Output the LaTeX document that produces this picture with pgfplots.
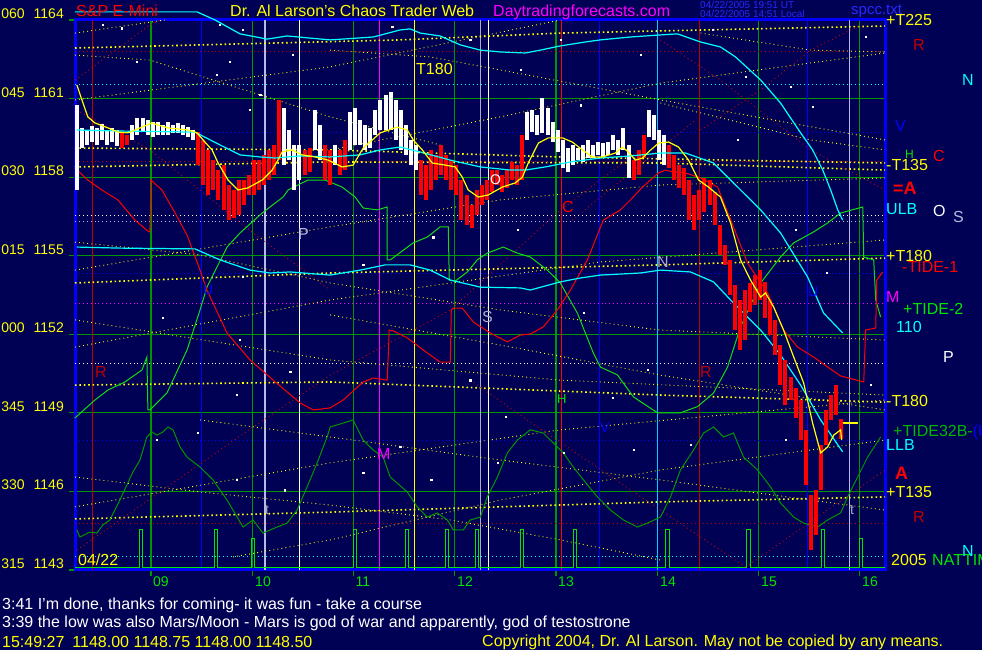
\documentclass[border=0pt]{standalone}
\usepackage{pgfplots}
\pgfplotsset{compat=1.18}
\usepackage{pgfplotstable}
\usepackage{fontspec}
\setmainfont{Liberation Sans}
\definecolor{bgnavy}{RGB}{0,0,85}
\definecolor{gridgreen}{RGB}{0,150,0}
\definecolor{ltgreen}{RGB}{0,230,0}
\definecolor{dkgreen}{RGB}{0,150,0}
\definecolor{slowgreen}{RGB}{20,220,20}
\definecolor{bred}{RGB}{255,0,0}
\definecolor{dred}{RGB}{190,0,0}
\definecolor{cyanc}{RGB}{0,255,255}
\definecolor{lav}{RGB}{185,185,230}
\definecolor{grayc}{RGB}{170,170,200}
\definecolor{bblue}{RGB}{0,0,255}
\definecolor{yel}{RGB}{255,255,0}
\definecolor{mag}{RGB}{255,0,255}
\definecolor{tblue}{RGB}{40,40,255}
\newcommand{\fs}[1]{\fontsize{#1}{#1}\selectfont}

\pgfplotstableread{
m lo hi
496 1157.51 1160.75
499 1159.11 1159.88
502 1159.23 1159.80
505 1159.34 1159.95
508 1159.23 1159.88
511 1159.42 1160.03
514 1159.23 1159.80
517 1159.34 1159.88
520 1159.19 1159.80
529 1159.42 1159.99
532 1159.61 1160.26
535 1159.72 1160.26
538 1159.61 1160.18
541 1159.53 1160.11
544 1159.61 1160.11
547 1159.61 1159.99
550 1159.61 1160.11
553 1159.69 1159.99
556 1159.69 1160.07
559 1159.61 1159.99
562 1159.53 1159.91
565 1159.42 1159.80
619 1158.46 1160.64
622 1158.65 1159.80
625 1157.51 1159.23
628 1157.89 1159.23
637 1159.04 1160.56
640 1158.65 1159.99
649 1158.46 1159.23
658 1159.04 1160.49
661 1159.23 1160.64
664 1159.23 1160.18
667 1159.04 1159.99
670 1159.11 1159.88
673 1159.61 1160.56
676 1159.80 1160.95
679 1159.80 1161.14
682 1159.80 1161.25
685 1159.42 1160.95
688 1159.04 1160.56
691 1158.85 1159.99
694 1158.46 1159.42
697 1158.27 1159.23
763 1159.42 1160.49
766 1159.72 1160.56
769 1159.61 1160.37
772 1159.69 1161.02
775 1159.61 1160.64
778 1159.34 1160.11
781 1158.96 1159.80
784 1158.35 1159.42
787 1158.20 1159.11
790 1158.46 1159.23
793 1158.65 1159.11
796 1158.58 1159.23
799 1158.73 1159.42
802 1158.73 1159.23
805 1158.85 1159.34
808 1158.77 1159.30
811 1158.85 1159.34
814 1159.04 1159.61
817 1158.85 1159.42
820 1159.04 1159.88
823 1157.97 1159.23
835 1159.53 1160.56
838 1159.42 1160.37
841 1158.65 1159.80
844 1158.46 1159.61
}\barsW

\pgfplotstableread{
m lo hi
523 1159.11 1159.72
526 1159.23 1159.61
568 1158.46 1159.72
571 1157.70 1159.42
574 1157.32 1159.04
577 1157.51 1158.65
580 1157.13 1158.27
583 1156.75 1158.46
586 1156.36 1157.70
589 1156.44 1157.51
592 1156.55 1157.89
595 1156.94 1157.89
598 1157.32 1158.08
601 1157.32 1158.65
604 1157.51 1158.65
607 1157.70 1158.85
610 1157.89 1159.04
613 1158.08 1159.23
616 1158.65 1160.95
631 1158.08 1159.04
634 1158.20 1159.11
643 1157.89 1159.23
646 1157.70 1159.04
652 1158.08 1159.04
655 1158.27 1159.42
700 1157.32 1158.65
703 1157.13 1158.46
706 1157.51 1159.04
709 1157.89 1158.85
712 1158.08 1159.23
715 1157.89 1158.85
718 1157.51 1158.65
721 1157.32 1158.46
724 1156.36 1157.89
727 1156.17 1157.32
730 1156.06 1156.94
733 1156.55 1157.51
736 1156.94 1157.70
739 1157.13 1157.89
742 1157.43 1158.27
745 1157.70 1158.27
748 1157.43 1158.08
751 1157.59 1158.27
754 1157.89 1158.58
757 1157.70 1158.46
760 1157.89 1159.61
826 1157.89 1158.65
829 1158.08 1159.04
832 1158.73 1159.61
847 1158.35 1159.23
850 1157.89 1158.85
853 1157.59 1158.46
856 1157.32 1158.35
859 1156.36 1157.89
862 1155.98 1157.32
865 1156.36 1157.51
868 1156.67 1157.97
871 1156.94 1157.89
874 1156.17 1157.43
877 1155.03 1156.17
880 1154.65 1155.41
883 1153.50 1154.84
886 1152.16 1153.88
889 1151.40 1153.31
892 1151.78 1153.69
895 1152.85 1153.96
898 1153.12 1154.26
901 1153.31 1154.45
904 1152.62 1154.00
907 1151.97 1153.31
910 1151.21 1152.55
913 1150.06 1151.59
916 1149.30 1151.02
919 1149.49 1150.37
922 1148.80 1149.95
925 1147.96 1149.49
928 1146.25 1148.35
931 1143.76 1145.86
934 1144.34 1146.05
937 1146.05 1147.77
940 1147.77 1149.11
943 1148.73 1149.68
946 1148.92 1150.06
949 1148.00 1148.75
}\barsR

\begin{document}
\begin{tikzpicture}[
  lbl/.style={anchor=base west, inner sep=0pt},
  hd/.style={line width=0.9pt, dash pattern=on 0.9pt off 3pt},
  vl/.style={line width=1.2pt},
  efy/.style={yel, line width=0.9pt, dash pattern=on 0.9pt off 3.2pt},
  efyt/.style={yel, line width=1.6pt, dash pattern=on 1.6pt off 2.8pt},
  efr/.style={bred!85!black, line width=0.9pt, dash pattern=on 0.9pt off 3.2pt}]
\useasboundingbox (0,0) rectangle (982pt,650pt);
\fill[bgnavy] (0,0) rectangle (982pt,650pt);
\clip (0,0) rectangle (982pt,650pt);
\begin{axis}[
  at={(75pt,80pt)}, anchor=south west, scale only axis,
  width=810pt, height=550pt,
  xmin=495, xmax=975, ymin=1143, ymax=1164,
  xtick={540,600,...,960}, ytick={1143,1146,...,1164},
  xticklabels={}, yticklabels={},
  tick pos=left,
  grid=major, major grid style={draw=gridgreen, line width=1.2pt},
  tick align=outside, major tick length=6pt,
  tick style={draw=gridgreen, line width=1.2pt},
  axis line style={draw=bblue, line width=3pt},
  clip=false]

% horizontal dotted levels
\addplot[hd, dred] coordinates {(495,1162.78) (975,1162.78)};
\addplot[hd, cyanc] coordinates {(495,1161.52) (975,1161.52)};
\addplot[hd, bblue] coordinates {(495,1159.72) (975,1159.72)};
\addplot[hd, dred] coordinates {(495,1158.58) (975,1158.58)};
\addplot[hd, white] coordinates {(495,1156.52) (975,1156.52)};
\addplot[hd, lav] coordinates {(495,1156.29) (975,1156.29)};
\addplot[hd, bblue] coordinates {(495,1154.34) (975,1154.34)};
\addplot[hd, mag] coordinates {(495,1153.19) (975,1153.19)};
\addplot[hd, white] coordinates {(495,1150.90) (975,1150.90)};
\addplot[hd, bblue] coordinates {(495,1147.96) (975,1147.96)};
\addplot[hd, dred] coordinates {(495,1144.79) (975,1144.79)};
\addplot[hd, cyanc] coordinates {(495,1143.50) (975,1143.50)};

% vertical time lines
\addplot[vl, dred] coordinates {(505.6,1143) (505.6,1164)};
\addplot[vl, bblue] coordinates {(570,1143) (570,1164)};
\addplot[vl, lav] coordinates {(607.6,1143) (607.6,1164)};
\addplot[vl, white] coordinates {(627.8,1143) (627.8,1164)};
\addplot[vl, mag] coordinates {(675.3,1143) (675.3,1164)};
\addplot[vl, yel] coordinates {(696,1143) (696,1164)};
\addplot[vl, grayc] coordinates {(735.2,1143) (735.2,1164)};
\addplot[vl, white] coordinates {(739.9,1143) (739.9,1164)};
\addplot[vl, bred] coordinates {(783.2,1143) (783.2,1164)};
\addplot[vl, bblue] coordinates {(805.8,1143) (805.8,1164)};
\addplot[vl, cyanc!80!blue] coordinates {(840,1143) (840,1164)};
\addplot[vl, dred] coordinates {(865.1,1143) (865.1,1164)};
\addplot[vl, bblue] coordinates {(929.1,1143) (929.1,1164)};
\addplot[vl, lav] coordinates {(954.1,1143) (954.1,1164)};

% yellow thick field lines
\addplot[efyt] coordinates {(495,1162.93) (687.7,1163.24) (782.6,1163.50) (975,1163.77)};
\addplot[efyt] coordinates {(495,1159.11) (646.2,1159.04) (782.6,1158.77) (975,1158.54)};
\addplot[efyt] coordinates {(495,1158.39) (646.2,1158.58) (841.9,1158.54) (975,1158.27)};
\addplot[efyt] coordinates {(495,1153.96) (646.2,1154.34) (841.9,1154.65) (975,1154.91)};
\addplot[efyt] coordinates {(495,1150.06) (646.2,1150.18) (841.9,1149.68) (975,1149.41)};
\addplot[efyt] coordinates {(495,1144.95) (646.2,1145.21) (841.9,1145.60) (975,1145.79)};
% yellow fine field lines
\addplot[efy] coordinates {(495,1163.50) (548.3,1164.0)};
\addplot[efy] coordinates {(495,1160.95) (646.2,1162.21) (782.6,1164.0)};
\addplot[efy] coordinates {(495,1162.66) (539.4,1162.47) (646.2,1160.30) (711.4,1159.23)};
\addplot[efy] coordinates {(646.2,1162.85) (705.5,1162.59) (841.9,1160.95) (975,1159.42)};
\addplot[efy] coordinates {(646.2,1159.04) (747.0,1160.30) (841.9,1161.59) (975,1162.74)};
\addplot[efy] coordinates {(841.9,1160.83) (930.9,1159.42) (975,1159.04)};
\addplot[efy] coordinates {(865.7,1163.50) (930.9,1162.85) (975,1162.78)};
\addplot[efy] coordinates {(495,1155.52) (569.1,1155.03) (646.2,1153.96) (747.0,1152.93) (841.9,1152.16) (975,1151.78)};
\addplot[efy] coordinates {(495,1154.45) (646.2,1156.10) (747.0,1157.13) (841.9,1157.70) (975,1157.97)};
\addplot[efy] coordinates {(495,1152.55) (646.2,1151.02) (782.6,1150.25) (975,1149.68)};
\addplot[efy] coordinates {(495,1151.51) (646.2,1153.31) (806.3,1154.76) (975,1155.60)};
\addplot[efy] coordinates {(495,1146.55) (569.1,1145.98) (646.2,1145.48) (717.4,1144.91) (782.6,1144.15) (841.9,1143.38)};
\addplot[efy] coordinates {(495,1145.41) (646.2,1147.09) (782.6,1148.35) (975,1149.49)};
\addplot[efy] coordinates {(569.1,1148.73) (646.2,1148.08) (747.0,1147.20) (841.9,1146.44) (975,1145.29)};
\addplot[efy] coordinates {(588.6,1143.50) (646.2,1144.15) (747.0,1145.67) (841.9,1146.82) (975,1147.96)};
\addplot[efy] coordinates {(646.2,1152.74) (747.0,1151.59) (841.9,1150.44) (975,1149.11)};
% red field lines
\addplot[efr] coordinates {(496.1,1143.76) (600.5,1148.46) (646.2,1150.44) (717.4,1152.93) (782.6,1156.75) (830.1,1159.04)};
\addplot[efr] coordinates {(496.1,1160.56) (539.4,1159.04) (600.5,1155.87) (646.2,1153.69)};
\addplot[efr] coordinates {(495,1161.71) (539.4,1163.81) (545.3,1164.0)};
\addplot[efr] coordinates {(729.2,1150.25) (763.0,1148.73) (841.9,1145.29) (892.4,1143.11)};
\addplot[efr] coordinates {(892.4,1143.11) (975,1146.82)};
\addplot[efr] coordinates {(841.9,1163.24) (877.5,1161.71) (930.9,1159.04) (975,1157.51)};
\addplot[efr] coordinates {(865.7,1159.80) (901.3,1161.33) (930.9,1162.85) (960.6,1163.81)};
\addplot[efr] coordinates {(789.7,1156.36) (862.7,1160.18)};

% scattered white points
\addplot[only marks, mark=square*, mark size=0.6pt, white] coordinates {
(511.5,1163.81) (522.8,1163.69) (580.9,1163.81) (594.6,1163.62) (531.7,1162.40)
(586.9,1162.40) (579.2,1161.90) (624.2,1162.66) (604.7,1161.14) (598.7,1160.56)
(547.1,1152.62) (594.6,1154.19) (592.8,1151.78) (622.5,1150.56) (591.0,1149.68)
(543.6,1147.96) (567.9,1148.23) (591.0,1146.44) (619.5,1146.05) (665.8,1146.70)
(687.7,1147.70) (706.1,1146.44) (745.3,1147.09) (784.4,1147.47) (825.9,1147.58)
(872.8,1163.62) (892.4,1161.82) (919.1,1161.44) (963.5,1163.35) (932.1,1160.68)
(887.6,1159.42) (922.0,1155.98) (940.4,1154.34) (966.5,1150.06) (859.7,1147.77)
(916.1,1147.96) (757.1,1155.98) (796.3,1152.81) (813.5,1149.57) (729.2,1150.25)
(683.0,1163.73) (729.2,1163.24) (782.6,1163.24) (758.9,1162.09) (830.1,1162.66)
(794.5,1160.75) (707.3,1155.71) (665.8,1154.65) (834.2,1150.64) (750.0,1148.84)};

% dark green wavy line
\addplot[dkgreen, line width=1pt] coordinates {
(496.1,1144.53) (497.9,1144.26) (503.8,1144.45) (508.0,1144.41) (511.5,1144.72)
(515.7,1144.91) (521.6,1145.67) (529.3,1146.74) (533.5,1147.20) (537.6,1148.08)
(540.6,1148.27) (543.6,1148.15) (547.1,1148.27) (550.1,1148.46) (553.1,1148.35)
(557.2,1147.70) (561.4,1147.31) (569.1,1146.93) (576.8,1146.44) (585.1,1145.67)
(588.6,1145.29) (594.6,1144.64) (600.5,1144.91) (606.4,1144.41) (614.7,1144.64)
(620.7,1144.79) (626.6,1145.29) (632.5,1146.17) (638.5,1147.09) (644.4,1148.08)
(646.2,1148.46) (653.9,1148.61) (659.8,1148.73) (665.8,1147.96) (671.7,1147.58)
(677.6,1147.31) (681.8,1146.55) (691.9,1145.98) (697.8,1145.41) (703.7,1145.02)
(709.7,1145.18) (715.6,1144.91) (719.2,1144.53) (725.1,1144.53) (729.2,1144.91)
(735.2,1145.02) (739.3,1145.79) (745.3,1146.55) (751.2,1147.47) (757.1,1147.96)
(764.8,1148.35) (772.5,1148.23) (776.7,1147.96) (784.4,1147.47) (790.3,1146.93)
(796.3,1146.44) (804.6,1145.79) (812.3,1145.29) (820.0,1144.91) (828.3,1144.64)
(834.2,1144.79) (841.9,1145.02) (847.9,1145.79) (853.8,1146.82) (861.5,1147.58)
(867.5,1148.23) (873.4,1148.46) (879.3,1148.08) (885.2,1148.23) (891.2,1147.31)
(899.5,1146.82) (907.2,1146.17) (913.1,1145.56) (920.9,1145.02) (926.8,1144.79)
(935.1,1144.64) (941.0,1144.91) (948.7,1145.18) (952.9,1145.79) (958.8,1146.55)
(964.7,1147.31) (972.4,1148.08)};

% slow green line
\addplot[slowgreen, line width=1pt] coordinates {
(494.9,1148.80) (506.8,1149.49) (514.5,1149.87) (524.6,1150.18) (534.7,1150.64)
(537.6,1151.13) (538.2,1149.11) (539.4,1149.11) (549.5,1149.76) (561.4,1151.40)
(569.1,1152.93) (573.2,1153.80) (585.1,1155.33) (592.8,1155.87) (605.9,1156.63)
(618.3,1157.24) (621.3,1157.51) (633.1,1157.89) (643.2,1157.89) (653.3,1157.62)
(661.0,1157.24) (665.8,1156.82) (674.1,1156.75) (680.0,1156.86) (680.0,1154.84)
(681.8,1154.84) (695.4,1155.49) (703.7,1155.71) (711.4,1156.10) (716.2,1156.10)
(716.8,1154.07) (720.3,1154.03) (727.5,1154.38) (733.4,1154.84) (739.3,1155.10)
(748.8,1155.33) (757.1,1155.10) (764.8,1154.95) (774.9,1154.45) (782.6,1153.96)
(792.7,1152.81) (802.2,1151.28) (806.3,1150.75) (816.4,1150.45) (825.9,1149.61)
(840.2,1149.00) (853.8,1149.00) (863.9,1149.24) (873.4,1149.76) (881.7,1150.75)
(889.4,1152.28) (901.3,1153.96) (913.1,1154.95) (920.9,1155.49) (932.7,1155.91)
(941.0,1156.25) (948.7,1156.63) (961.8,1156.86) (962.4,1154.95) (968.3,1154.84)
(969.5,1153.31) (972.4,1152.66)};

% red slow line
\addplot[bred, line width=1pt] coordinates {
(494.9,1158.35) (502.6,1157.89) (510.9,1157.51) (520.4,1157.13) (530.5,1156.36)
(538.8,1155.91) (539.4,1155.91) (540.0,1157.89) (546.5,1157.51) (554.3,1156.63)
(561.4,1155.79) (569.1,1154.45) (573.2,1153.69) (585.1,1152.05) (598.7,1151.02)
(612.4,1150.25) (628.4,1149.38) (636.1,1149.11) (646.2,1149.19) (653.9,1149.49)
(665.8,1150.18) (671.7,1150.33) (680.0,1150.25) (680.6,1151.13) (681.2,1152.16)
(683.6,1152.13) (691.9,1151.86) (703.7,1151.29) (711.4,1150.94) (717.4,1150.94)
(718.0,1152.93) (719.2,1153.00) (724.5,1153.00) (731.0,1152.47) (741.1,1152.05)
(751.2,1151.71) (758.9,1151.97) (764.8,1152.01) (772.5,1152.28) (780.8,1152.93)
(788.6,1153.69) (798.6,1154.84) (808.1,1156.36) (818.2,1156.75) (824.1,1157.13)
(831.3,1157.62) (840.8,1158.16) (844.9,1158.27) (849.1,1158.20) (856.8,1158.16)
(865.7,1157.97) (875.8,1157.62) (885.2,1156.10) (893.5,1154.72) (905.4,1153.58)
(914.9,1152.16) (923.2,1151.51) (932.7,1151.13) (941.0,1150.75) (948.7,1150.41)
(962.4,1150.18) (963.5,1152.16) (969.5,1152.24) (970.1,1154.07) (973.6,1154.38)};

% cyan bands
\addplot[cyanc, line width=1.2pt] coordinates {
(494.9,1164.31) (567.3,1164.31) (578.0,1164.00) (592.8,1163.47) (608.8,1163.27)
(620.7,1163.39) (646.2,1163.24) (671.7,1163.35) (687.7,1163.62) (693.6,1163.66)
(699.6,1163.50) (711.4,1163.39) (723.3,1163.05) (735.2,1162.85) (747.0,1162.78)
(761.9,1162.74) (770.8,1162.85) (782.6,1163.01) (797.4,1163.16) (806.3,1163.24)
(824.1,1163.35) (841.9,1163.43) (852.0,1163.47) (865.7,1163.16) (877.5,1162.97)
(886.4,1162.59) (901.3,1161.71) (913.1,1160.83) (925.0,1159.69) (932.1,1159.04)
(938.1,1158.27) (942.8,1157.51) (947.0,1156.75) (949.9,1156.36)};
\addplot[cyanc, line width=1.2pt] coordinates {
(496.1,1155.33) (521.6,1155.29) (566.1,1155.26) (580.9,1154.84) (598.7,1154.45)
(610.6,1154.34) (622.5,1154.38) (646.2,1154.26) (664.0,1154.45) (678.8,1154.65)
(693.6,1154.65) (705.5,1154.45) (717.4,1154.07) (735.2,1153.80) (758.9,1153.77)
(764.8,1153.69) (782.6,1154.00) (794.5,1154.15) (806.3,1154.26) (830.1,1154.34)
(841.9,1154.45) (859.7,1154.38) (873.4,1154.00) (883.5,1153.31) (901.3,1152.16)
(913.1,1151.21) (925.0,1150.06) (936.9,1148.73) (949.9,1147.51)};

% price bars
\addplot[draw=none, mark=none, error bars/.cd, y dir=minus, y explicit, error mark=none,
  error bar style={draw=bred, line width=4pt}]
  table[x=m, y=hi, y error minus expr=\thisrow{hi}-\thisrow{lo}] {\barsR};
\addplot[draw=none, mark=none, error bars/.cd, y dir=minus, y explicit, error mark=none,
  error bar style={draw=white, line width=4pt}]
  table[x=m, y=hi, y error minus expr=\thisrow{hi}-\thisrow{lo}] {\barsW};

% cyan moving average
\addplot[cyanc, line width=1.2pt] coordinates {
(496.1,1159.80) (521.6,1159.76) (566.1,1159.72) (580.9,1159.23) (592.8,1158.85)
(604.7,1158.77) (613.6,1158.73) (628.4,1158.81) (646.2,1158.77) (664.0,1158.85)
(675.9,1159.04) (687.7,1159.15) (699.6,1158.96) (717.4,1158.65) (735.2,1158.39)
(753.0,1158.27) (761.9,1158.27) (773.7,1158.39) (788.6,1158.58) (806.3,1158.73)
(824.1,1158.81) (841.9,1158.92) (856.8,1158.92) (873.4,1158.54) (885.2,1157.78)
(901.3,1156.75) (913.1,1155.87) (929.1,1154.19) (938.6,1152.81) (949.9,1152.05)};
% yellow moving average
\addplot[yel, line width=1.2pt] coordinates {
(496.1,1161.52) (499.1,1160.95) (502.6,1160.30) (506.8,1160.07) (514.5,1159.88)
(520.4,1159.72) (526.4,1159.69) (534.7,1159.91) (540.6,1160.07) (544.2,1159.99)
(550.1,1159.88) (561.9,1159.80) (567.3,1159.69) (572.0,1159.34) (576.2,1159.04)
(579.8,1158.54) (585.7,1157.89) (591.6,1157.51) (597.5,1157.59) (605.9,1157.89)
(611.8,1158.27) (615.3,1158.65) (617.7,1158.96) (623.6,1159.04) (629.6,1158.85)
(637.3,1158.77) (645.0,1158.65) (653.3,1158.39) (659.8,1158.46) (665.8,1159.11)
(675.9,1159.69) (685.9,1159.91) (691.9,1159.80) (695.4,1159.42) (700.8,1159.04)
(706.7,1158.54) (714.4,1158.46) (720.3,1158.39) (724.5,1158.00) (728.0,1157.51)
(734.0,1157.24) (739.9,1157.32) (748.2,1157.62) (755.9,1157.78) (760.1,1158.00)
(763.6,1158.54) (769.6,1159.30) (775.5,1159.50) (783.8,1159.50) (789.7,1159.34)
(795.7,1159.04) (801.6,1158.77) (807.5,1158.77) (815.2,1158.92) (819.4,1159.15)
(822.9,1158.96) (827.1,1158.65) (831.3,1158.73) (834.8,1158.96) (840.8,1159.30)
(846.7,1159.34) (852.6,1159.15) (858.6,1158.65) (864.5,1157.89) (870.4,1157.62)
(877.5,1157.24) (883.5,1156.25) (889.4,1154.84) (895.3,1154.07) (901.3,1153.42)
(904.2,1153.58) (909.0,1153.04) (914.9,1152.16) (920.9,1151.13) (926.8,1150.14)
(932.1,1148.61) (936.9,1147.47) (941.0,1147.70) (944.6,1148.15) (948.7,1148.35)
(949.3,1147.96)};
\addplot[yel, line width=2pt] coordinates {(949.9,1148.61) (958.8,1148.61)};

% tide spikes
\addplot[ltgreen, line width=1pt] coordinates {
(495,1143.11)
(533.2,1143.11) (533.2,1144.56) (535.0,1144.56) (535.0,1143.11)
(577.7,1143.11) (577.7,1144.56) (579.5,1144.56) (579.5,1143.11)
(599.6,1143.11) (599.6,1144.22) (601.4,1144.22) (601.4,1143.11)
(660.1,1143.11) (660.1,1144.56) (661.9,1144.56) (661.9,1143.11)
(691.0,1143.11) (691.0,1144.56) (692.8,1144.56) (692.8,1143.11)
(714.7,1143.11) (714.7,1144.56) (716.5,1144.56) (716.5,1143.11)
(732.5,1143.11) (732.5,1144.56) (734.3,1144.56) (734.3,1143.11)
(759.2,1143.11) (759.2,1144.56) (761.0,1144.56) (761.0,1143.11)
(790.6,1143.11) (790.6,1144.56) (792.4,1144.56) (792.4,1143.11)
(845.2,1143.11) (845.2,1144.56) (847.0,1144.56) (847.0,1143.11)
(893.2,1143.11) (893.2,1144.56) (895.0,1144.56) (895.0,1143.11)
(937.1,1143.11) (937.1,1144.56) (938.9,1144.56) (938.9,1143.11)
(959.7,1143.11) (959.7,1144.22) (961.5,1144.22) (961.5,1143.11)
(975,1143.11)};
\end{axis}

% ---- left scale labels
\foreach \ty/\txt in {631/060\hspace{9pt}1164, 552.5/045\hspace{9pt}1161, 474/030\hspace{9pt}1158,
  395.5/015\hspace{9pt}1155, 317/000\hspace{9pt}1152, 238.5/345\hspace{9pt}1149,
  160/330\hspace{9pt}1146, 81/315\hspace{9pt}1143}
  \node[anchor=base east, inner sep=0pt, text=yel, font=\fs{14}] at (64pt,\ty pt) {\txt};
% ---- hour labels
\foreach \cx/\txt in {161/09, 263/10, 363/11, 465/12, 566/13, 668/14, 769/15, 870/16}
  \node[anchor=base, inner sep=0pt, text=ltgreen, font=\fs{14}] at (\cx pt,63pt) {\txt};

% ---- header
\node[lbl, text=bred, font=\fs{16}] at (76pt,633pt) {S\&P E-Mini};
\node[lbl, text=yel, font=\fs{16}] at (230pt,633pt) {Dr. Al Larson's Chaos Trader Web};
\node[lbl, text=mag, font=\fs{16}] at (493pt,633pt) {Daytradingforecasts.com};
\node[lbl, text=tblue, font=\fs{10}] at (700pt,641pt) {04/22/2005 19:51 UT};
\node[lbl, text=tblue, font=\fs{10}] at (700pt,632pt) {04/22/2005 14:51 Local};
\node[lbl, text=tblue, font=\fs{15}] at (851pt,635pt) {spcc.txt};

% ---- right labels
\node[lbl, text=yel, font=\fs{16}] at (886pt,624pt) {+T225};
\node[lbl, text=dred, font=\fs{16}] at (913pt,599pt) {R};
\node[lbl, text=cyanc, font=\fs{16}] at (962pt,564pt) {N};
\node[lbl, text=bblue, font=\fs{16}] at (895pt,518pt) {V};
\node[lbl, text=ltgreen, font=\fs{12}] at (905pt,491pt) {H};
\node[lbl, text=bred, font=\fs{16}] at (933pt,488pt) {C};
\node[lbl, text=yel, font=\fs{16}] at (886pt,479pt) {-T135};
\node[lbl, text=bred, font=\fs{18}] at (893pt,455pt) {\textbf{=A}};
\node[lbl, text=cyanc, font=\fs{16}] at (886pt,435pt) {ULB};
\node[lbl, text=white, font=\fs{16}] at (933pt,433pt) {O};
\node[lbl, text=lav, font=\fs{16}] at (953pt,427pt) {S};
\node[lbl, text=yel, font=\fs{16}] at (886pt,388pt) {+T180};
\node[lbl, text=bred, font=\fs{16}] at (902pt,377pt) {-TIDE-1};
\node[lbl, text=mag, font=\fs{16}] at (886pt,347pt) {M};
\node[lbl, text=ltgreen, font=\fs{16}] at (903pt,335pt) {+TIDE-2};
\node[lbl, text=cyanc, font=\fs{16}] at (896pt,317pt) {110};
\node[lbl, text=white, font=\fs{16}] at (943pt,287pt) {P};
\node[lbl, text=yel, font=\fs{16}] at (886pt,243pt) {-T180};
\node[lbl, text=ltgreen!80!black, font=\fs{16}] at (893pt,213pt) {+TIDE32B-\textcolor{bblue}{(U}};
\node[lbl, text=cyanc, font=\fs{16}] at (886pt,199pt) {LLB};
\node[lbl, text=bred, font=\fs{18}] at (895pt,170pt) {\textbf{A}};
\node[lbl, text=yel, font=\fs{16}] at (886pt,152pt) {+T135};
\node[lbl, text=dred, font=\fs{16}] at (913pt,127pt) {R};
\node[lbl, text=yel, font=\fs{16}] at (891pt,84pt) {2005};
\node[lbl, text=ltgreen, font=\fs{16}] at (932pt,84pt) {NATTIM};
\node[lbl, text=cyanc, font=\fs{16}] at (962pt,93pt) {N};

% ---- labels inside plot
\node[lbl, text=yel, font=\fs{16}] at (416pt,575pt) {T180};
\node[lbl, text=lav, font=\fs{16}] at (298pt,410pt) {P};
\node[lbl, text=dred, font=\fs{16}] at (95pt,272pt) {R};
\node[lbl, text=mag, font=\fs{16}] at (377pt,190pt) {M};
\node[lbl, text=grayc, font=\fs{16}] at (482pt,327pt) {S};
\node[lbl, text=bred, font=\fs{16}] at (562pt,437pt) {C};
\node[lbl, text=white, font=\fs{14}] at (490pt,465pt) {O};
\node[lbl, text=grayc, font=\fs{16}] at (657pt,382pt) {N};
\node[lbl, text=dred, font=\fs{16}] at (700pt,272pt) {R};
\node[lbl, text=grayc, font=\fs{14}] at (265pt,135pt) {t};
\node[lbl, text=grayc, font=\fs{14}] at (850pt,135pt) {t};
\node[lbl, text=bblue, font=\fs{14}] at (203pt,355pt) {U};
\node[lbl, text=bblue, font=\fs{14}] at (808pt,353pt) {U};
\node[lbl, text=ltgreen, font=\fs{13}] at (557pt,246pt) {H};
\node[lbl, text=bblue, font=\fs{14}] at (600pt,217pt) {V};
\node[lbl, text=yel, font=\fs{16}] at (78pt,84pt) {04/22};

% ---- footer
\node[lbl, text=white, font=\fs{16}] at (2pt,40pt) {3:41 I'm done, thanks for coming- it was fun - take a course};
\node[lbl, text=white, font=\fs{16}] at (2pt,22pt) {3:39 the low was also Mars/Moon - Mars is god of war and apparently, god of testostrone};
\node[lbl, text=yel, font=\fs{16}] at (2pt,2pt) {15:49:27\hspace{8pt}1148.00 1148.75 1148.00 1148.50};
\node[lbl, text=yel, font=\fs{16}] at (482pt,3pt) {Copyright 2004, Dr. Al Larson. May not be copied by any means.};
\end{tikzpicture}
\end{document}
